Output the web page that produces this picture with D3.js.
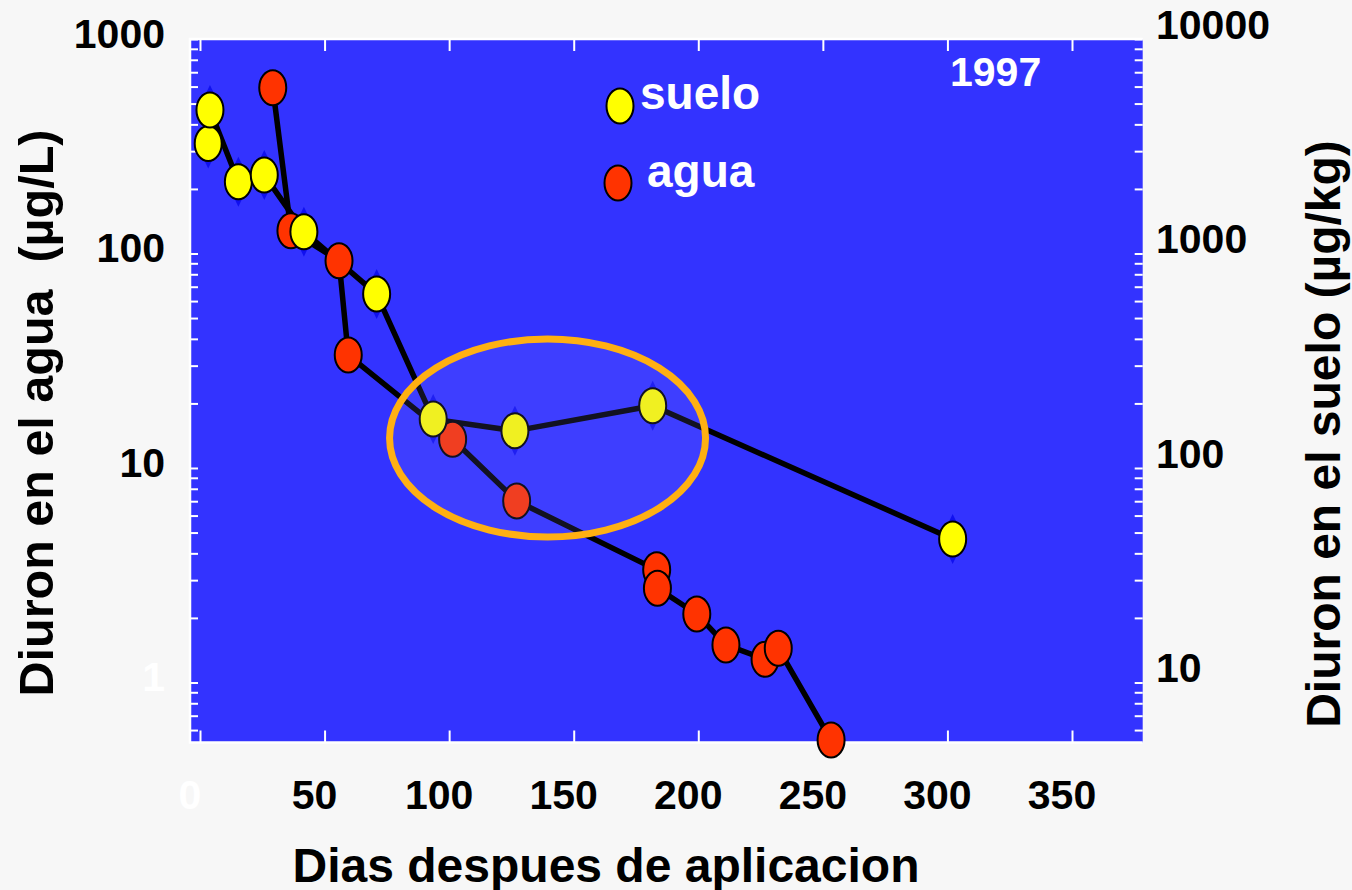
<!DOCTYPE html>
<html>
<head>
<meta charset="utf-8">
<script src="https://cdn.jsdelivr.net/npm/d3@7"></script>
<style>
    body { margin: 0; background: #f7f7f7; }
    text { font-family: "Liberation Sans", Arial, sans-serif; font-weight: bold; }
</style>
</head>
<body>
<svg id="chart" width="1352" height="890"></svg>
<script>
// suelo (soil, right axis, µg/kg)
var sueloDias = [3.3, 4.0, 15.4, 25.8, 41.7, 70.9, 93.6, 126.4, 181.7, 302.1];
var sueloConc = [3260, 4670, 2160, 2320, 1264, 647, 169, 149, 195, 46.7];

// agua (water, left axis, µg/L)
var aguaDias = [29.2, 36.5, 55.8, 59.5, 101.4, 127.1, 183.3, 183.6, 199.4, 211.1, 226.8, 232.1, 253.3];
var aguaConc = [593, 127.7, 92.5, 33.6, 13.6, 7.02, 3.35, 2.75, 2.085, 1.496, 1.283, 1.443, 0.539];

var xTicks = [0, 50, 100, 150, 200, 250, 300, 350];
var leftTicks = [1, 10, 100, 1000];
var rightTicks = [10, 100, 1000, 10000];

// highlighted zone (centre in data units)
var zonaCentro = {dia: 139.5, conc: 13.8};

var svg = d3.select("#chart"),
    plot = {left: 190, right: 1142.7, top: 39, bottom: 742.5};

var x = d3.scaleLinear().domain([0, 350]).range([200, 1072]);
var yL = d3.scaleLog().domain([0.525, 1000]).range([plot.bottom, plot.top]);
var yR = d3.scaleLog().domain([5.25, 10000]).range([plot.bottom, plot.top]);

svg.append("rect")
    .attr("x", plot.left)
    .attr("y", plot.top)
    .attr("width", plot.right - plot.left)
    .attr("height", plot.bottom - plot.top)
    .attr("fill", "#3333ff");

// white frame on top, left and bottom
svg.append("path")
    .attr("d", "M" + plot.right + "," + plot.top + "H" + plot.left + "V" + plot.bottom + "H" + plot.right)
    .attr("fill", "none")
    .attr("stroke", "#fff")
    .attr("stroke-width", 2.5);

// axes: ticks inside the frame, white
function whiteAxis(g) {
    g.select(".domain").remove();
    g.selectAll("line").attr("stroke", "#fff").attr("stroke-width", 2);
    g.selectAll("text").remove();
}

svg.append("g")
    .attr("transform", "translate(0," + plot.top + ")")
    .call(d3.axisBottom(x).tickValues(xTicks).tickSize(12))
    .call(whiteAxis);

svg.append("g")
    .attr("transform", "translate(0," + plot.bottom + ")")
    .call(d3.axisTop(x).tickValues(xTicks).tickSize(12))
    .call(whiteAxis);

svg.append("g")
    .attr("transform", "translate(" + plot.left + ",0)")
    .call(d3.axisRight(yL).tickValues(yL.ticks()).tickSize(8))
    .call(whiteAxis);

svg.append("g")
    .attr("transform", "translate(" + plot.right + ",0)")
    .call(d3.axisLeft(yR).tickValues(yR.ticks()).tickSize(8))
    .call(whiteAxis);

// tick labels
svg.selectAll(".xlab")
    .data(xTicks)
    .enter().append("text")
    .attr("class", "xlab")
    .attr("x", function(d) { return x(d) - 10; })
    .attr("y", 809)
    .attr("text-anchor", "middle")
    .style("font-size", "41px")
    .attr("fill", function(d) { return d === 0 ? "#fff" : "#000"; })
    .text(function(d) { return d; });

svg.selectAll(".ylab")
    .data(leftTicks)
    .enter().append("text")
    .attr("class", "ylab")
    .attr("x", 165)
    .attr("y", function(d) { return yL(d) + 9; })
    .attr("text-anchor", "end")
    .style("font-size", "41px")
    .attr("fill", function(d) { return d === 1 ? "#fff" : "#000"; })
    .text(function(d) { return d; });

svg.selectAll(".y2lab")
    .data(rightTicks)
    .enter().append("text")
    .attr("class", "y2lab")
    .attr("x", 1156)
    .attr("y", function(d) { return yR(d); })
    .style("font-size", "41px")
    .text(function(d) { return d; });

// axis titles
svg.append("text")
    .attr("x", 606)
    .attr("y", 882)
    .attr("text-anchor", "middle")
    .style("font-size", "48px")
    .text("Dias despues de aplicacion");

svg.append("text")
    .attr("transform", "translate(53,413) rotate(-90)")
    .attr("text-anchor", "middle")
    .style("font-size", "48.5px")
    .style("white-space", "pre")
    .text("Diuron en el agua  (µg/L)");

svg.append("text")
    .attr("transform", "translate(1340,434) rotate(-90)")
    .attr("text-anchor", "middle")
    .style("font-size", "48px")
    .text("Diuron en el suelo (µg/kg)");

// series
var suelo = sueloDias.map(function(d, i) { return {dia: d, conc: sueloConc[i]}; });
var agua = aguaDias.map(function(d, i) { return {dia: d, conc: aguaConc[i]}; });

var lineSuelo = d3.line()
    .x(function(d) { return x(d.dia); })
    .y(function(d) { return yR(d.conc); });

var lineAgua = d3.line()
    .x(function(d) { return x(d.dia); })
    .y(function(d) { return yL(d.conc); });

// blue diamonds of the original plot under the soil markers
svg.selectAll(".diamond")
    .data(suelo)
    .enter().append("path")
    .attr("class", "diamond")
    .attr("transform", function(d) { return "translate(" + x(d.dia) + "," + yR(d.conc) + ")"; })
    .attr("d", "M0,-25L12,0L0,25L-12,0Z")
    .attr("fill", "#1010f0");

svg.append("path")
    .datum(agua)
    .attr("fill", "none")
    .attr("stroke", "#000")
    .attr("stroke-width", 5.5)
    .attr("stroke-linejoin", "round")
    .attr("d", lineAgua);

svg.append("path")
    .datum(suelo)
    .attr("fill", "none")
    .attr("stroke", "#000")
    .attr("stroke-width", 5.5)
    .attr("stroke-linejoin", "round")
    .attr("d", lineSuelo);

svg.selectAll(".agua")
    .data(agua)
    .enter().append("ellipse")
    .attr("class", "agua")
    .attr("cx", function(d) { return x(d.dia); })
    .attr("cy", function(d) { return yL(d.conc); })
    .attr("rx", 13.5)
    .attr("ry", 17.5)
    .attr("fill", "#ff3300")
    .attr("stroke", "#000")
    .attr("stroke-width", 2);

svg.selectAll(".suelo")
    .data(suelo)
    .enter().append("ellipse")
    .attr("class", "suelo")
    .attr("cx", function(d) { return x(d.dia); })
    .attr("cy", function(d) { return yR(d.conc); })
    .attr("rx", 13.5)
    .attr("ry", 17.5)
    .attr("fill", "#ffff00")
    .attr("stroke", "#000")
    .attr("stroke-width", 2);

// highlighted zone
svg.append("ellipse")
    .attr("cx", x(zonaCentro.dia))
    .attr("cy", yL(zonaCentro.conc))
    .attr("rx", 158)
    .attr("ry", 99)
    .attr("fill", "rgba(140,140,255,0.13)")
    .attr("stroke", "#ffb012")
    .attr("stroke-width", 7);

// legend
svg.append("ellipse")
    .attr("cx", 620).attr("cy", 106).attr("rx", 13.5).attr("ry", 17.5)
    .attr("fill", "#ffff00").attr("stroke", "#000").attr("stroke-width", 2);
svg.append("text")
    .attr("x", 640).attr("y", 109)
    .attr("fill", "#fff")
    .style("font-size", "46px")
    .text("suelo");

svg.append("ellipse")
    .attr("cx", 618).attr("cy", 183).attr("rx", 13.5).attr("ry", 17.5)
    .attr("fill", "#ff3300").attr("stroke", "#000").attr("stroke-width", 2);
svg.append("text")
    .attr("x", 647).attr("y", 187)
    .attr("fill", "#fff")
    .style("font-size", "46px")
    .text("agua");

svg.append("text")
    .attr("x", 950).attr("y", 86)
    .attr("fill", "#fff")
    .style("font-size", "41px")
    .text("1997");
</script>
</body>
</html>
